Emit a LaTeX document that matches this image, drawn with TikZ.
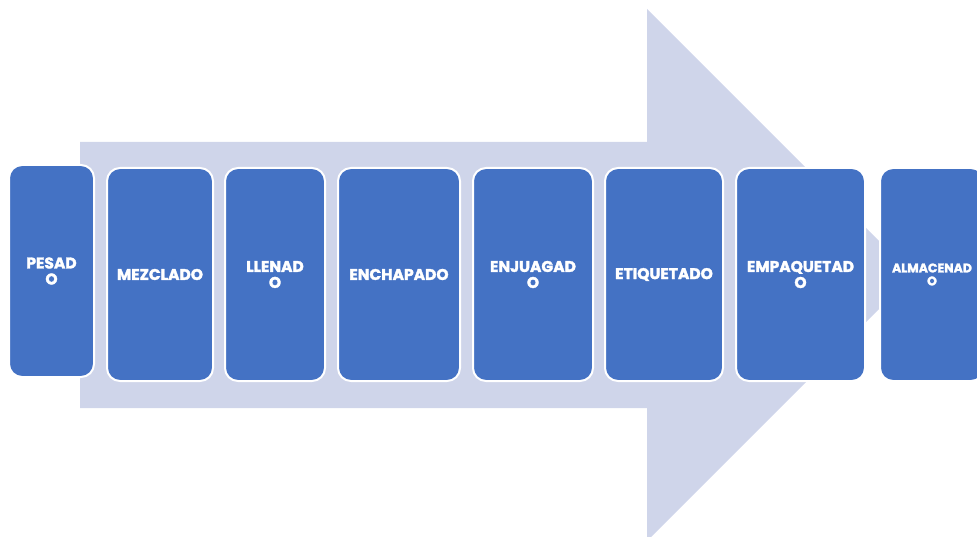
\documentclass[tikz,border=0pt]{standalone}
\usepackage{fontspec}
\setmainfont{Poppins}[BoldFeatures={FakeBold=2}]
\usetikzlibrary{positioning}
\definecolor{boxblue}{HTML}{4472C4}
\definecolor{arrowfill}{HTML}{CFD5EA}
\tikzset{%
  stepbox/.style = {rectangle,rounded corners=13pt,fill=boxblue,draw=white,
        line width=2pt,outer sep=0pt,minimum height=213pt,inner sep=0pt,
        align=center,text=white,font=\bfseries\fontsize{15.5}{16}\selectfont},
  bigarrow/.style = {fill=arrowfill}
}

\begin{document}
\begin{tikzpicture}[x=1pt,y=-1pt]
    \path[use as bounding box,clip] (0,0) rectangle (977,537);
    % big arrow behind the steps
    \fill[bigarrow] (80,142) -- (647,142) -- (647,9) -- (913,275)
        -- (647,541) -- (647,408) -- (80,408) -- cycle;
    % steps
    \node[stepbox,minimum width=85pt,minimum height=212pt,anchor=north west]
        (pesado) at (9,165) {PESAD\\O};
    \node[stepbox,minimum width=106pt,right=13pt of pesado,yshift=-3.5pt]
        (mezclado) {MEZCLADO};
    \node[stepbox,minimum width=100pt,right=12pt of mezclado] (llenado) {LLENAD\\O};
    \node[stepbox,minimum width=122pt,right=13pt of llenado] (enchapado) {ENCHAPADO};
    \node[stepbox,minimum width=120pt,right=13pt of enchapado] (enjuagado) {ENJUAGAD\\O};
    \node[stepbox,minimum width=118pt,right=12pt of enjuagado] (etiquetado) {ETIQUETADO};
    \node[stepbox,minimum width=129pt,right=13pt of etiquetado] (empaquetado) {EMPAQUETAD\\O};
    \node[stepbox,minimum width=104pt,right=15pt of empaquetado,
        font=\bfseries\fontsize{12.5}{13}\selectfont] (almacenado) {ALMACENAD\\O};
\end{tikzpicture}
\end{document}
